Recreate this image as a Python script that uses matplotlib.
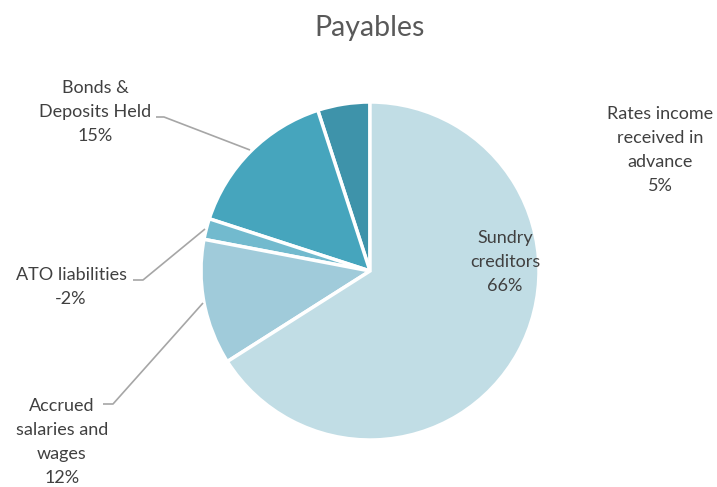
import matplotlib
matplotlib.use("Agg")
import matplotlib.pyplot as plt

plt.rcParams['font.family'] = ['Lato', 'DejaVu Sans']

categories = ["Rates income\nreceived in\nadvance", "Bonds &\nDeposits Held", "ATO liabilities",
              "Accrued\nsalaries and\nwages", "Sundry\ncreditors"]
values = [5, 15, 2, 12, 66]
pct_labels = ["5%", "15%", "-2%", "12%", "66%"]
colors = ["#3E93AA", "#46A5BD", "#72BACE", "#A0CBDA", "#C1DDE5"]

W, H = 717, 487
fig = plt.figure(figsize=(W / 100, H / 100), dpi=100)
ax = fig.add_axes([0, 0, 1, 1])

def Y(py):
    return H - py

cx, cy, r = 370, 271, 169
ax.pie(values, colors=colors, startangle=90, counterclock=True, center=(cx, Y(cy)),
       radius=r, wedgeprops=dict(edgecolor='white', linewidth=2.5), frame=True)
ax.set_xlim(0, W)
ax.set_ylim(0, H)
ax.set_aspect('equal')
ax.axis('off')

txt = "#404040"
fs = 13
ax.text(370, Y(28), "Payables", ha='center', va='center', fontsize=20.5, color="#595959")

# label positions (pixel coords of block center)
pos = [(660, 150), (95, 112), (71, 287), (62, 442), (505, 262)]
for cat, pl, (px, py) in zip(categories, pct_labels, pos):
    ax.text(px, Y(py), cat + "\n" + pl, ha='center', va='center', fontsize=fs,
            color=txt, linespacing=1.62)

lc = "#A6A6A6"
leaders = [
    [(156, 117), (164, 117), (250, 150)],
    [(133, 280), (143, 280), (205, 229)],
    [(103, 404), (113, 404), (203, 303)],
]
for pts in leaders:
    xs = [p[0] for p in pts]
    ys = [Y(p[1]) for p in pts]
    ax.plot(xs, ys, color=lc, linewidth=1.2, solid_capstyle='butt')

fig.savefig("out.png", dpi=100, facecolor='white')
